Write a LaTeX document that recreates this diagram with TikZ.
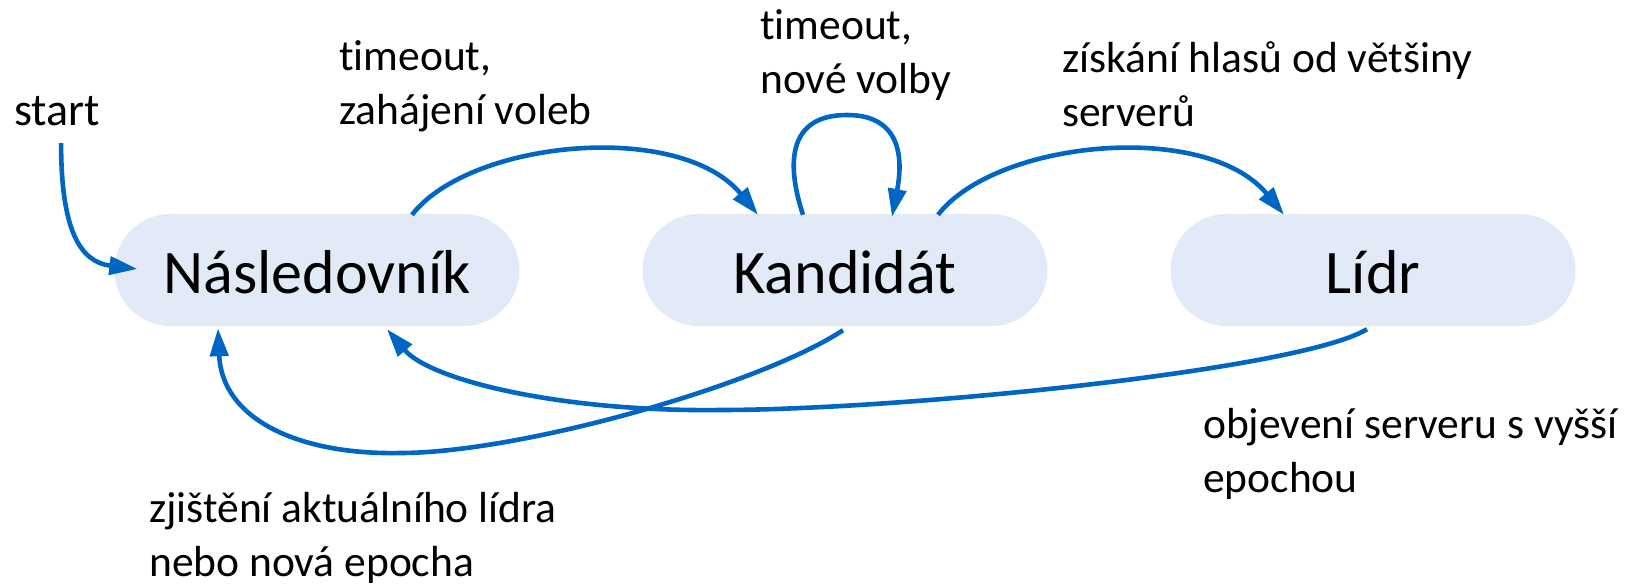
\documentclass[tikz,border=0pt]{standalone}
\usepackage{fontspec}
\setmainfont{Carlito}[RawFeature={-liga;-dlig;-clig}]
\usetikzlibrary{arrows.meta,calc}
\definecolor{arrowblue}{RGB}{0,102,196}
\definecolor{boxfill}{RGB}{226,234,248}
\newcommand{\mylines}[1]{\begin{tabular}[t]{@{}l@{}}#1\end{tabular}}
\tikzset{
  statebox/.style={fill=boxfill, draw=none, rounded corners=56pt, minimum width=405pt, minimum height=112pt, inner sep=0pt, text height=46pt, text depth=0pt, font=\fontsize{62}{74}\selectfont},
  lbl/.style={anchor=base west, inner sep=0pt, font=\fontsize{43.5}{54}\selectfont},
  conn/.style={draw=arrowblue, line width=4.6pt, -{Triangle[length=28pt,width=18pt]}}
}
\begin{document}
\begin{tikzpicture}[x=1pt,y=-1pt]
\useasboundingbox (0,0) rectangle (1625,584);
\node[statebox] (N) at (317,270) {Následovník};
\node[statebox] (K) at (845,270) {Kandidát};
\node[statebox] (L) at (1373,270) {Lídr};

\node[lbl, font=\fontsize{46}{54}\selectfont] (st) at (14,125) {start};
\node[lbl] (t1) at (339,70) {\mylines{timeout,\\zahájení voleb}};
\node[lbl] (t2) at (760,39) {\mylines{timeout,\\nové volby}};
\node[lbl] (t3) at (1062,72) {\mylines{získání hlasů od většiny\\serverů}};
\node[lbl] (t4) at (1203,438) {\mylines{objevení serveru s vyšší\\epochou}};
\node[lbl] (t5) at (149,522) {\mylines{zjištění aktuálního lídra\\nebo nová epocha}};

\coordinate (s0) at ($(st.base)+(4,18)$);
\draw[conn] (s0) .. controls (61,230) and (80,262) .. ($(N.west)+(23,-1)$);
\draw[conn] ($(N.north)+(95,1)$) .. controls (470,140) and (680,120) .. ($(K.north)+(-87,1)$);
\draw[conn] ($(K.north)+(-42,1)$) .. controls (785,160) and (790,115) .. (847,115) .. controls (905,115) and (902,165) .. ($(K.north)+(47,3)$);
\draw[conn] ($(K.north)+(93,1)$) .. controls (996,140) and (1206,120) .. ($(L.north)+(-89,1)$);
\draw[conn] ($(K.south)+(-2,4)$) .. controls (760,385) and (520,453) .. (400,453) .. controls (300,455) and (222,420) .. ($(N.south)+(-99,2)$);
\draw[conn] ($(L.south)+(-6,3)$) .. controls (1300,370) and (900,410) .. (720,410) .. controls (560,412) and (430,380) .. ($(N.south)+(70,3)$);
\end{tikzpicture}
\end{document}
